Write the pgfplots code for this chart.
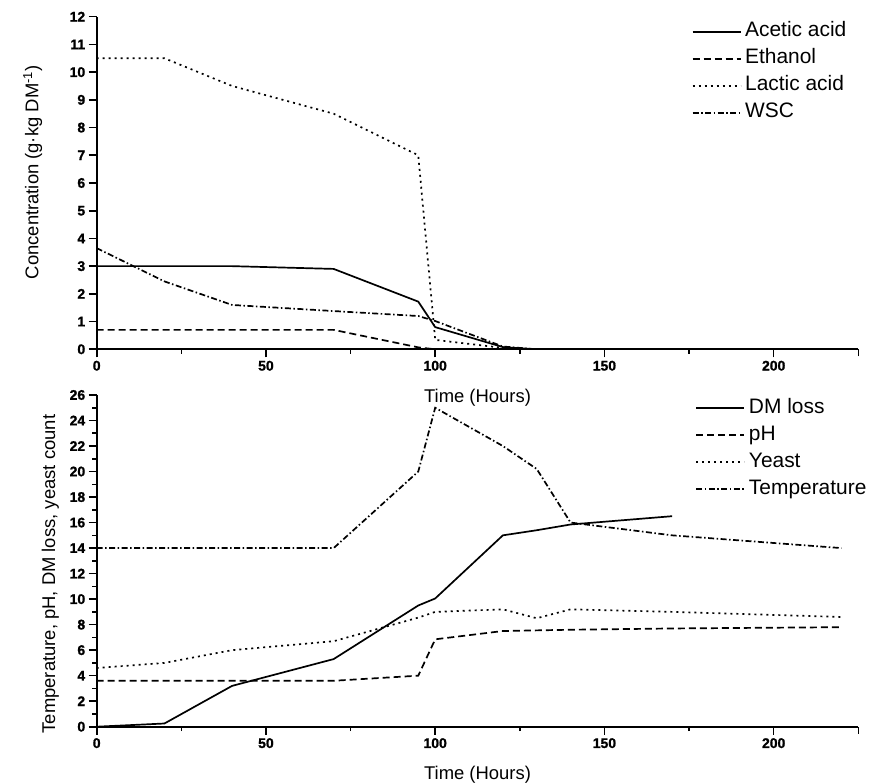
\documentclass[border=0pt]{standalone}
\usepackage{fontspec}
\setmainfont{Liberation Sans}
\newfontfamily\heavyfont{Liberation Sans}[BoldFeatures={FakeBold=1.2}]
\usepackage{pgfplots}
\pgfplotsset{compat=1.18}

% Silage aerobic-exposure profiles: fermentation products (top) and
% temperature / pH / DM loss / yeast (bottom)
\pgfplotstableread{
t    acetic ethanol lactic wsc
0    3.00   0.70    10.50  3.65
20   3.00   0.70    10.50  2.45
40   3.00   0.70    9.50   1.60
70   2.90   0.70    8.50   1.38
95   1.72   0.07    7.00   1.20
100  0.80   0.00    0.34   1.02
120  0.08   0.00    0.05   0.10
130  0.00   0.00    0.00   0.00
220  0.00   0.00    0.00   0.00
}\topdata

\pgfplotstableread{
t    dm     ph    yeast  temp
0    0.00   3.60  4.60   14.0
20   0.25   3.60  5.00   14.0
40   3.20   3.60  6.00   14.0
70   5.30   3.60  6.70   14.0
95   9.50   4.00  8.55   20.0
100  10.05  6.85  9.00   25.0
120  15.00  7.50  9.20   22.0
130  15.40  7.55  8.50   20.2
140  15.85  7.60  9.20   16.0
170  16.50  7.70  9.00   15.0
220  nan    7.80  8.60   14.0
}\botdata

\newcommand{\tickfont}{\heavyfont\fontsize{14}{14}\selectfont\bfseries}

\pgfplotsset{
  panel/.style={
    scale only axis,
    width=761.6bp,
    xmin=0, xmax=225,
    axis x line=bottom, axis y line=left,
    axis line style={-, line width=2bp, black},
    xtick={0,50,100,150,200},
    minor x tick num=1,
    extra x ticks={225}, extra x tick labels={},
    extra x tick style={major tick length=7bp},
    tick align=outside,
    major tick length=8bp, minor tick length=4.5bp,
    every tick/.style={line width=1.6bp, black},
    /pgf/number format/assume math mode=true,
    tick label style={font=\tickfont},
    xticklabel style={font=\tickfont},
    yticklabel style={font=\tickfont},
    label style={font=\fontsize{18.5}{18.5}\selectfont},
    unbounded coords=jump,
    legend cell align=left,
    legend image code/.code={\draw[##1] (0bp,0bp) -- (48bp,0bp);},
    legend style={draw=none, fill=none, inner sep=0pt, anchor=north west,
      font=\fontsize{21}{21}\selectfont, row sep=0pt,
      nodes={inner sep=3.75bp, text height=15bp, text depth=4.5bp}},
    every axis plot/.append style={line width=1.7bp, black, mark=none},
  },
  ssolid/.style={black, solid, mark=none},
  sdash/.style={black, mark=none, dash pattern=on 7bp off 4bp},
  sdot/.style={black, mark=none, dash pattern=on 2bp off 4bp},
  sdashdot/.style={black, mark=none, dash pattern=on 6bp off 2.5bp on 1.5bp off 2.5bp},
}

\begin{document}
\begin{tikzpicture}
\path[use as bounding box] (0,0) rectangle (875bp,784bp);

\begin{axis}[panel,
  at={(96.7bp,434.7bp)}, anchor=south west,
  height=332.6bp,
  ymin=0, ymax=12, ytick={0,1,...,12},
  xlabel={Time (Hours)},
  xlabel style={at={(axis description cs:0.5,-0.146)}, anchor=center},
  ylabel={Concentration (g\textperiodcentered kg DM\textsuperscript{-1})},
  ylabel style={at={(axis description cs:-0.084,0.532)}, anchor=center, rotate=0},
  legend style={at={(0.781,0.996)}},
]
\addplot[ssolid] table[x=t, y=acetic] {\topdata};
\addlegendentry{Acetic acid}
\addplot[sdash] table[x=t, y=ethanol] {\topdata};
\addlegendentry{Ethanol}
\addplot[sdot] table[x=t, y=lactic] {\topdata};
\addlegendentry{Lactic acid}
\addplot[sdashdot] table[x=t, y=wsc] {\topdata};
\addlegendentry{WSC}
\end{axis}

\begin{axis}[panel,
  at={(96.7bp,57.3bp)}, anchor=south west,
  height=331.7bp,
  ymin=0, ymax=26, ytick={0,2,...,26}, minor y tick num=1,
  xlabel={Time (Hours)},
  xlabel style={at={(axis description cs:0.5,-0.146)}, anchor=center},
  ylabel={Temperature, pH, DM loss, yeast count},
  ylabel style={at={(axis description cs:-0.061,0.460)}, anchor=center},
  legend style={at={(0.786,1.0015)}},
]
\addplot[ssolid] table[x=t, y=dm] {\botdata};
\addlegendentry{DM loss}
\addplot[sdash] table[x=t, y=ph] {\botdata};
\addlegendentry{pH}
\addplot[sdot] table[x=t, y=yeast] {\botdata};
\addlegendentry{Yeast}
\addplot[sdashdot] table[x=t, y=temp] {\botdata};
\addlegendentry{Temperature}
\end{axis}
\end{tikzpicture}
\end{document}
